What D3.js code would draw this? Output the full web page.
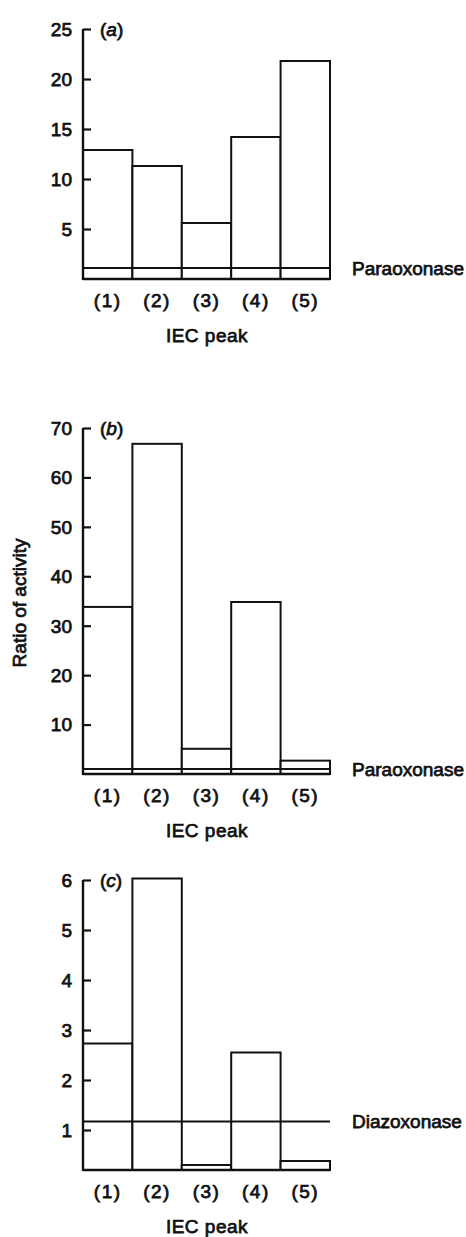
<!DOCTYPE html>
<html>
<head>
<meta charset="utf-8">
<script src="https://cdn.jsdelivr.net/npm/d3@7"></script>
<style>
  body { margin: 0; background: #fff; }
  text { font-family: "Liberation Sans", Arial, sans-serif; font-size: 19px; fill: #111; stroke: #111; stroke-width: 0.75px; }
</style>
</head>
<body>
<svg id="chart" width="466" height="1237"></svg>
<script>
// IEC peaks on the x axis
var peaks = ["(1)", "(2)", "(3)", "(4)", "(5)"];

// (a) ratio of activity, paraoxonase
var valuesA = [12.9, 11.3, 5.6, 14.2, 21.8];
var ticksA = [5, 10, 15, 20, 25];
var refA = 1.1;

// (b) ratio of activity, paraoxonase
var valuesB = [33.8, 66.8, 5.1, 34.8, 2.7];
var ticksB = [10, 20, 30, 40, 50, 60, 70];
var refB = 1;

// (c) ratio of activity, diazoxonase
var valuesC = [2.73, 6.03, 0.3, 2.55, 0.38];
var ticksC = [1, 2, 3, 4, 5, 6];
var refC = 1.17;

var svg = d3.select("#chart");

var x = d3.scaleBand().domain(peaks).range([83, 330]).padding(0);

var panels = [
  {tag: "a", values: valuesA, ticks: ticksA, ref: refA, refLabel: "Paraoxonase",
   y: d3.scaleLinear().domain([0, 25]).range([279, 29])},
  {tag: "b", values: valuesB, ticks: ticksB, ref: refB, refLabel: "Paraoxonase",
   y: d3.scaleLinear().domain([0, 70]).range([774, 428])},
  {tag: "c", values: valuesC, ticks: ticksC, ref: refC, refLabel: "Diazoxonase",
   y: d3.scaleLinear().domain([0.2, 6]).range([1170, 880])}
];

panels.forEach(function(p) {
  var g = svg.append("g");
  var y = p.y;
  var base = y.domain()[0];
  var y0 = y(base);

  // bars
  g.selectAll("rect")
    .data(p.values)
    .enter().append("rect")
      .attr("x", function(d, i) { return x(peaks[i]); })
      .attr("y", function(d) { return y(d); })
      .attr("width", x.bandwidth())
      .attr("height", function(d) { return y0 - y(d); })
      .attr("fill", "#fff")
      .attr("stroke", "#111")
      .attr("stroke-width", 2);

  // reference line
  g.append("line")
    .attr("x1", x.range()[0]).attr("x2", x.range()[1])
    .attr("y1", y(p.ref)).attr("y2", y(p.ref))
    .attr("stroke", "#111").attr("stroke-width", 2);

  g.append("text")
    .attr("x", 352)
    .attr("y", y(p.ref))
    .attr("dy", "0.36em")
    .text(p.refLabel);

  // baseline
  g.append("line")
    .attr("x1", x.range()[0]).attr("x2", x.range()[1])
    .attr("y1", y0).attr("y2", y0)
    .attr("stroke", "#111").attr("stroke-width", 2.4);

  // y axis
  var yAxis = d3.axisRight(y).tickValues(p.ticks).tickSize(8).tickFormat("");
  var ax = g.append("g")
    .attr("transform", "translate(" + x.range()[0] + ",0)")
    .call(yAxis);
  ax.select(".domain").remove();
  ax.selectAll(".tick line").attr("stroke", "#111").attr("stroke-width", 2.2);
  g.append("line")
    .attr("x1", x.range()[0]).attr("x2", x.range()[0])
    .attr("y1", y(d3.max(p.ticks))).attr("y2", y0 + 1)
    .attr("stroke", "#111").attr("stroke-width", 2.4);

  g.selectAll(".ylab")
    .data(p.ticks)
    .enter().append("text")
      .attr("class", "ylab")
      .attr("x", 72)
      .attr("y", function(d) { return y(d); })
      .attr("dy", "0.36em")
      .attr("text-anchor", "end")
      .text(function(d) { return d; });

  // panel tag
  var tag = g.append("text")
    .attr("x", 100)
    .attr("y", y(d3.max(p.ticks)))
    .attr("dy", "0.36em");
  tag.append("tspan").text("(");
  tag.append("tspan").attr("font-style", "italic").text(p.tag);
  tag.append("tspan").text(")");

  // x labels
  g.selectAll(".xlab")
    .data(peaks)
    .enter().append("text")
      .attr("class", "xlab")
      .attr("x", function(d) { return x(d) + x.bandwidth() / 2; })
      .attr("y", y0 + 28)
      .attr("text-anchor", "middle")
      .attr("letter-spacing", 1.5)
      .text(function(d) { return d; });

  g.append("text")
    .attr("x", 207)
    .attr("y", y0 + 63)
    .attr("text-anchor", "middle")
    .attr("letter-spacing", 0.5)
    .text("IEC peak");
});

svg.append("text")
  .attr("transform", "translate(26,603) rotate(-90)")
  .attr("text-anchor", "middle")
  .text("Ratio of activity");
</script>
</body>
</html>
